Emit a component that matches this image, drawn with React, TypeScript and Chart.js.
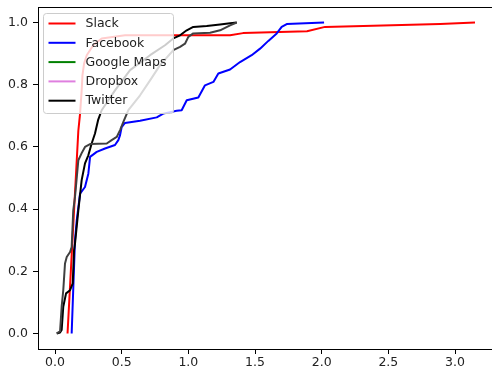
import React, { useEffect, useRef } from "react";
import { Chart, registerables } from "chart.js";

Chart.register(...registerables);

const xTicks = [0, 0.5, 1.0, 1.5, 2.0, 2.5, 3.0];
const yTicks = [0, 0.2, 0.4, 0.6, 0.8, 1.0];

const slackX = [0.094, 0.131, 0.175, 0.188, 0.2, 0.206, 0.218, 0.238, 0.287, 0.35, 0.525, 0.9, 1.313, 1.41, 1.89, 2.025, 2.888, 3.15];
const slackY = [0.0, 0.3, 0.652, 0.707, 0.782, 0.83, 0.868, 0.895, 0.927, 0.949, 0.959, 0.959, 0.959, 0.966, 0.972, 0.986, 0.995, 1.0];

const facebookX = [0.125, 0.15, 0.163, 0.188, 0.225, 0.25, 0.263, 0.313, 0.375, 0.45, 0.475, 0.488, 0.5, 0.525, 0.638, 0.763, 0.812, 0.913, 0.95, 0.988, 1.075, 1.125, 1.188, 1.225, 1.313, 1.388, 1.475, 1.538, 1.6, 1.663, 1.7, 1.738, 2.018];
const facebookY = [0.0, 0.3, 0.364, 0.45, 0.471, 0.514, 0.568, 0.584, 0.595, 0.606, 0.622, 0.638, 0.664, 0.677, 0.684, 0.695, 0.707, 0.716, 0.718, 0.75, 0.759, 0.798, 0.809, 0.836, 0.849, 0.873, 0.895, 0.916, 0.941, 0.965, 0.986, 0.995, 1.0];

const googleMapsX: number[] = [];
const googleMapsY: number[] = [];

const dropboxX: number[] = [];
const dropboxY: number[] = [];

const twitterX = [0.013, 0.038, 0.05, 0.062, 0.083, 0.113, 0.133, 0.143, 0.15, 0.175, 0.2, 0.225, 0.25, 0.275, 0.3, 0.323, 0.35, 0.45, 0.563, 0.713, 0.825, 0.887, 0.938, 0.988, 1.037, 1.138, 1.238, 1.313, 1.363];
const twitterY = [0.0, 0.003, 0.011, 0.086, 0.129, 0.139, 0.161, 0.268, 0.289, 0.396, 0.493, 0.547, 0.573, 0.611, 0.643, 0.686, 0.718, 0.782, 0.847, 0.895, 0.927, 0.949, 0.959, 0.975, 0.986, 0.989, 0.994, 0.998, 1.0];

const extraX = [0.013, 0.038, 0.05, 0.062, 0.075, 0.088, 0.113, 0.125, 0.137, 0.15, 0.175, 0.2, 0.225, 0.263, 0.388, 0.425, 0.463, 0.488, 0.512, 0.55, 0.638, 0.713, 0.788, 0.887, 0.938, 0.975, 1.0, 1.037, 1.163, 1.238, 1.313, 1.363];
const extraY = [0.0, 0.007, 0.086, 0.139, 0.225, 0.246, 0.262, 0.278, 0.396, 0.439, 0.557, 0.58, 0.6, 0.609, 0.611, 0.622, 0.632, 0.654, 0.68, 0.718, 0.766, 0.814, 0.863, 0.911, 0.922, 0.932, 0.954, 0.965, 0.967, 0.975, 0.991, 1.0];

const toPts = (xs: number[], ys: number[]) => xs.map((x, i) => ({ x, y: ys[i] }));

const FONT = "'DejaVu Sans', sans-serif";

const legendPlugin = {
  id: "mplLegend",
  afterDatasetsDraw(chart: any) {
    const { ctx, chartArea } = chart;
    ctx.save();
    // top spine
    ctx.strokeStyle = "#000";
    ctx.lineWidth = 1;
    ctx.beginPath();
    ctx.moveTo(chartArea.left, Math.round(chartArea.top) + 0.5);
    ctx.lineTo(chartArea.right, Math.round(chartArea.top) + 0.5);
    ctx.stroke();

    const items = chart.data.datasets.filter((d: any) => d.label);
    const bx = Math.round(chartArea.left) + 5.5;
    const by = Math.round(chartArea.top) + 6.5;
    const bw = 130;
    const bh = 100;
    const r = 3;
    ctx.beginPath();
    ctx.moveTo(bx + r, by);
    ctx.lineTo(bx + bw - r, by);
    ctx.arcTo(bx + bw, by, bx + bw, by + r, r);
    ctx.lineTo(bx + bw, by + bh - r);
    ctx.arcTo(bx + bw, by + bh, bx + bw - r, by + bh, r);
    ctx.lineTo(bx + r, by + bh);
    ctx.arcTo(bx, by + bh, bx, by + bh - r, r);
    ctx.lineTo(bx, by + r);
    ctx.arcTo(bx, by, bx + r, by, r);
    ctx.closePath();
    ctx.fillStyle = "rgba(255,255,255,0.8)";
    ctx.fill();
    ctx.strokeStyle = "#cccccc";
    ctx.stroke();

    ctx.font = `12.5px ${FONT}`;
    ctx.textBaseline = "middle";
    ctx.textAlign = "left";
    items.forEach((d: any, i: number) => {
      const y = by + 10 + i * 19.3;
      ctx.strokeStyle = d.borderColor;
      ctx.lineWidth = 2;
      ctx.beginPath();
      ctx.moveTo(bx + 5, y);
      ctx.lineTo(bx + 32, y);
      ctx.stroke();
      ctx.fillStyle = "#222";
      ctx.fillText(d.label, bx + 42, y + 0.5);
    });
    ctx.restore();
  },
};

export default function App() {
  const ref = useRef<HTMLCanvasElement>(null);

  useEffect(() => {
    if (!ref.current) return;
    const series = [
      { label: "Slack", xs: slackX, ys: slackY, color: "#ff0000" },
      { label: "Facebook", xs: facebookX, ys: facebookY, color: "#0000ff" },
      { label: "Google Maps", xs: googleMapsX, ys: googleMapsY, color: "#008000" },
      { label: "Dropbox", xs: dropboxX, ys: dropboxY, color: "rgba(191,0,191,0.5)" },
      { label: "Twitter", xs: twitterX, ys: twitterY, color: "#000000" },
      { label: "", xs: extraX, ys: extraY, color: "#404040" },
    ];
    const tickFont = { family: FONT, size: 12.5 };
    const chart = new Chart(ref.current, {
      type: "line",
      data: {
        datasets: series.map((s, i) => ({
          label: s.label,
          data: toPts(s.xs, s.ys),
          borderColor: s.color,
          backgroundColor: s.color,
          borderWidth: 2,
          pointRadius: 0,
          tension: 0,
          fill: false,
          borderJoinStyle: "round",
          order: -i,
        })),
      },
      plugins: [legendPlugin],
      options: {
        animation: false,
        responsive: false,
        devicePixelRatio: 1,
        layout: { padding: { top: 7, left: 0, right: 0, bottom: 0 } },
        plugins: { legend: { display: false }, tooltip: { enabled: false } },
        scales: {
          x: {
            type: "linear",
            min: -0.1275,
            max: 3.2775,
            afterBuildTicks: (s: any) => {
              s.ticks = xTicks.map((v) => ({ value: v }));
            },
            afterFit: (s: any) => {
              s.height = 29;
              s.paddingLeft = 0;
              s.paddingRight = 0;
              s.paddingTop = 0;
              s.paddingBottom = 0;
            },
            ticks: {
              callback: (v: any) => Number(v).toFixed(1),
              font: tickFont,
              color: "#222",
              padding: 1,
              maxRotation: 0,
              autoSkip: false,
            },
            grid: { drawOnChartArea: false, drawTicks: true, tickLength: 5, color: "#000" },
            border: { display: true, color: "#000", width: 1 },
          },
          y: {
            type: "linear",
            min: -0.05,
            max: 1.05,
            afterBuildTicks: (s: any) => {
              s.ticks = yTicks.map((v) => ({ value: v }));
            },
            afterFit: (s: any) => {
              s.width = 38;
              s.paddingLeft = 0;
              s.paddingRight = 0;
              s.paddingTop = 0;
              s.paddingBottom = 0;
            },
            ticks: {
              callback: (v: any) => Number(v).toFixed(1),
              font: tickFont,
              color: "#222",
              padding: 5,
              autoSkip: false,
            },
            grid: { drawOnChartArea: false, drawTicks: true, tickLength: 5, color: "#000" },
            border: { display: true, color: "#000", width: 1 },
          },
        },
      },
    } as any);
    return () => chart.destroy();
  }, []);

  return (
    <div style={{ position: "fixed", left: 0, top: 0, width: 492, height: 378, background: "#fff", overflow: "hidden" }}>
      <canvas ref={ref} width={492} height={378} style={{ display: "block" }} />
    </div>
  );
}
